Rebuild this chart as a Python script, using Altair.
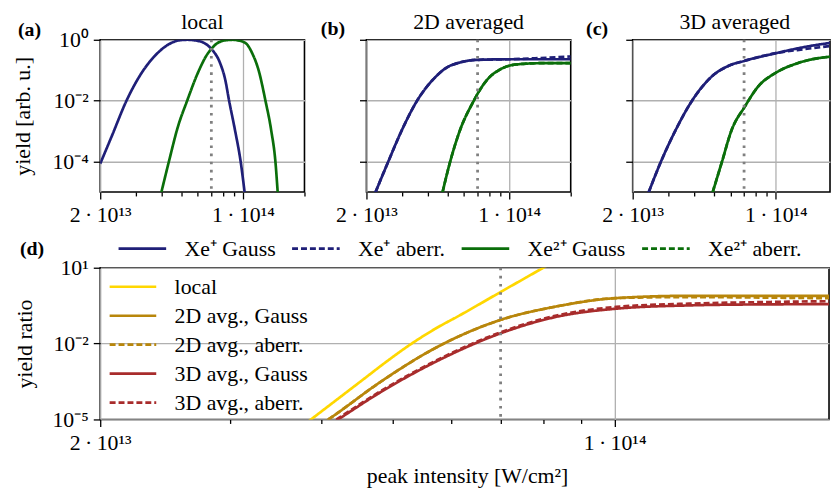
import altair as alt
import pandas as pd

FONT = "Liberation Serif, Times New Roman, serif"
FS = 22
NAVY = "#1f1f78"
GREEN = "#0a6e0a"
GOLD = "#FFD700"
DKGOLD = "#B8860B"
RED = "#A82C2C"
GRID = "#b0b0b0"

ion_series = ["Xe⁺ Gauss", "Xe⁺ aberr.", "Xe²⁺ Gauss", "Xe²⁺ aberr."]
ion_colors = [NAVY, NAVY, GREEN, GREEN]
ratio_series = ["local", "2D avg., Gauss", "2D avg., aberr.", "3D avg., Gauss", "3D avg., aberr."]
ratio_colors = [GOLD, DKGOLD, DKGOLD, RED, RED]
SOLID = [1, 0]
DASH = [6, 3]

# marker intensity (dotted vertical line)
vline_I = [7.0e13]

# ---------------- (a) local yields ----------------
a_xe1_I = [2.00e13, 2.28e13, 2.69e13, 3.18e13, 3.70e13, 4.30e13, 4.98e13, 5.38e13, 5.78e13,
           6.47e13, 7.02e13, 7.73e13, 8.19e13, 8.55e13, 9.14e13, 9.75e13, 1.019e14]
a_xe1_Y = [8.5e-5, 6.9e-4, 1.0e-2, 7.9e-2, 0.295, 0.69, 0.98, 1.0, 0.96,
           0.78, 0.49, 0.17, 0.048, 1.0e-2, 1.07e-3, 9.5e-5, 9.5e-6]
a_xe2_I = [3.98e13, 4.33e13, 4.80e13, 5.33e13, 6.00e13, 6.71e13, 7.02e13, 7.50e13, 8.40e13,
           8.93e13, 9.40e13, 1.030e14, 1.109e14, 1.197e14, 1.288e14, 1.374e14, 1.442e14, 1.479e14]
a_xe2_Y = [9.5e-6, 9.5e-5, 1.38e-3, 1.0e-2, 7.9e-2, 0.347, 0.51, 0.78, 0.98,
           1.0, 0.96, 0.78, 0.363, 0.091, 1.0e-2, 1.07e-3, 9.5e-5, 9.5e-6]

# ---------------- (b) 2D averaged ----------------
b_xe1_I = [2.21e13, 2.55e13, 2.98e13, 3.54e13, 4.22e13, 4.98e13, 5.78e13, 6.97e13, 1.012e14, 1.416e14, 2.0e14]
b_xe1_gauss = [9.5e-6, 9.5e-5, 1.07e-3, 1.0e-2, 0.048, 0.126, 0.182, 0.219, 0.229, 0.229, 0.229]
b_xe1_aberr = [9.5e-6, 9.5e-5, 1.07e-3, 1.0e-2, 0.048, 0.126, 0.182, 0.219, 0.229, 0.251, 0.282]
b_xe2_I = [4.71e13, 5.13e13, 5.74e13, 6.71e13, 7.02e13, 7.78e13, 9.04e13, 1.089e14, 1.416e14, 2.0e14]
b_xe2_gauss = [9.5e-6, 9.5e-5, 1.07e-3, 1.0e-2, 0.0174, 0.0479, 0.107, 0.155, 0.170, 0.170]
b_xe2_aberr = [9.5e-6, 9.5e-5, 1.07e-3, 1.0e-2, 0.0174, 0.0479, 0.107, 0.155, 0.170, 0.170]

# ---------------- (c) 3D averaged ----------------
c_xe1_I = [2.39e13, 2.74e13, 3.24e13, 3.90e13, 4.86e13, 5.86e13, 7.05e13, 1.002e14, 1.374e14, 2.0e14]
c_xe1_gauss = [9.5e-6, 9.5e-5, 1.07e-3, 1.0e-2, 0.0617, 0.138, 0.204, 0.363, 0.575, 0.851]
c_xe1_aberr = [9.5e-6, 9.5e-5, 1.07e-3, 1.0e-2, 0.0617, 0.138, 0.204, 0.363, 0.49, 0.661]
c_xe2_I = [4.91e13, 5.45e13, 6.08e13, 7.05e13, 8.19e13, 1.002e14, 1.277e14, 2.0e14]
c_xe2_gauss = [9.5e-6, 9.5e-5, 1.07e-3, 6.3e-3, 0.0288, 0.0832, 0.170, 0.295]
c_xe2_aberr = [9.5e-6, 9.5e-5, 1.07e-3, 6.3e-3, 0.0288, 0.0832, 0.170, 0.295]

# ---------------- (d) yield ratios ----------------
d_local_I = [3.72e13, 4.53e13, 4.91e13, 5.28e13, 5.70e13, 6.18e13, 7.02e13, 8.00e13, 8.93e13]
d_local = [4.2e-6, 3.39e-4, 2.04e-3, 9.3e-3, 0.038, 0.138, 1.15, 10.0, 63.0]
d_I = [3.90e13, 4.21e13, 4.76e13, 5.86e13, 7.02e13, 8.34e13, 1.005e14, 1.262e14, 1.589e14, 2.0e14]
d_2d_gauss = [4.0e-6, 1.86e-5, 2.51e-4, 1.0e-2, 0.089, 0.295, 0.631, 0.776, 0.776, 0.776]
d_2d_aberr = [4.0e-6, 1.86e-5, 2.51e-4, 1.0e-2, 0.089, 0.295, 0.631, 0.692, 0.661, 0.617]
d_3d_gauss = [2.45e-6, 1.0e-5, 1.0e-4, 2.75e-3, 0.0263, 0.115, 0.240, 0.324, 0.355, 0.363]
d_3d_aberr = [2.7e-6, 1.1e-5, 1.1e-4, 3.0e-3, 0.0288, 0.129, 0.282, 0.380, 0.437, 0.479]

panel_tags = ["(a)", "(b)", "(c)", "(d)"]
panel_titles = ["local", "2D averaged", "3D averaged"]
x_major = [2e13, 1e14]
x_minor_top = [3e13, 4e13, 5e13, 6e13, 7e13, 8e13, 9e13, 2e14]
x_minor_c = [3e13, 4e13, 5e13, 6e13, 7e13, 8e13, 9e13]
y_major_top = [1.0, 1e-2, 1e-4]
y_major_d = [10.0, 1e-2, 1e-5]

TOP_H = 153.5
BOT_H = 153


def frame(pairs):
    rows = []
    for name, xs, ys in pairs:
        for x, y in zip(xs, ys):
            rows.append({"series": name, "I": x, "Y": y})
    return pd.DataFrame(rows)


X_LABELS = "datum.value < 5e13 ? '2\u2009·\u200910¹³' : '1\u2009·\u200910¹⁴'"


def major_x(title=None):
    kw = dict(values=x_major, labelExpr=X_LABELS, tickSize=7, grid=True, orient="bottom",
              labelPadding=6, labelFlush=False, domain=False)
    if title:
        kw.update(title=title, titleX=370, titleY=57, titleBaseline="middle", titleAnchor="middle")
    else:
        kw.update(title=None)
    return alt.Axis(**kw)


def minor_x(vals):
    return alt.Axis(values=vals, tickSize=4, labels=False, grid=False, domain=False,
                    title=None, orient="bottom")


def tag_layer(tag, dx, dy):
    return alt.Chart(pd.DataFrame({"t": [tag]})).mark_text(
        font=FONT, fontSize=20, fontWeight="bold", align="left", baseline="alphabetic", color="black"
    ).encode(text="t:N", x=alt.value(dx), y=alt.value(dy))


def title_layer(title, cx):
    return alt.Chart(pd.DataFrame({"t": [title]})).mark_text(
        font=FONT, fontSize=FS, align="center", baseline="middle", color="black"
    ).encode(text="t:N", x=alt.value(cx), y=alt.value(-18))


def ion_panel(df, title, tag, dx, dy, width, xmax, minor, y_axis, legend):
    xs = alt.Scale(type="log", domain=[2e13, xmax], nice=False)
    ys = alt.Scale(type="log", domain=[1e-5, 1], nice=False)
    lines = alt.Chart(df).mark_line(clip=True, strokeWidth=2.7, interpolate="monotone").encode(
        x=alt.X("I:Q", scale=xs, axis=major_x()),
        y=alt.Y("Y:Q", scale=ys, axis=y_axis),
        color=alt.Color("series:N", scale=alt.Scale(domain=ion_series, range=ion_colors), legend=legend),
        strokeDash=alt.StrokeDash("series:N", scale=alt.Scale(domain=ion_series, range=[SOLID, DASH, SOLID, DASH]), legend=legend),
    )
    vline = alt.Chart(pd.DataFrame({"I": vline_I})).mark_rule(
        color="#808080", strokeWidth=2.8, strokeDash=[2.6, 5.6]
    ).encode(x=alt.X("I:Q", scale=xs, axis=minor_x(minor)))
    return alt.layer(lines, vline, tag_layer(tag, dx, dy), title_layer(title, 103)).resolve_axis(
        x="independent").properties(width=width, height=TOP_H)


top_legend = alt.Legend(orient="none", legendX=17, legendY=199.6, direction="horizontal", columns=4,
                        title=None, symbolType="stroke", symbolSize=2304, symbolStrokeWidth=2.7,
                        labelFont=FONT, labelFontSize=FS, labelColor="black", labelOffset=17,
                        columnPadding=15, padding=0, labelLimit=300, clipHeight=22)

y_axis_a = alt.Axis(values=y_major_top,
                    labelExpr="datum.value > 0.5 ? '10⁰' : datum.value > 1e-3 ? '10⁻²' : '10⁻⁴'",
                    tickSize=7, grid=True, domain=False, labelPadding=5,
                    title="yield [arb. u.]", titleX=-78, titleY=76.75, titleBaseline="middle",
                    titleAngle=270)
y_axis_bc = alt.Axis(values=y_major_top, tickSize=7, grid=True, domain=False, labels=False, title=None)

df_a = frame([(ion_series[0], a_xe1_I, a_xe1_Y), (ion_series[2], a_xe2_I, a_xe2_Y)])
df_b = frame([(ion_series[0], b_xe1_I, b_xe1_gauss), (ion_series[1], b_xe1_I, b_xe1_aberr),
              (ion_series[2], b_xe2_I, b_xe2_gauss), (ion_series[3], b_xe2_I, b_xe2_aberr)])
df_c = frame([(ion_series[0], c_xe1_I, c_xe1_gauss), (ion_series[1], c_xe1_I, c_xe1_aberr),
              (ion_series[2], c_xe2_I, c_xe2_gauss), (ion_series[3], c_xe2_I, c_xe2_aberr)])

pa = ion_panel(df_a, panel_titles[0], panel_tags[0], -83, -3.5, 206, 2e14, x_minor_top, y_axis_a, top_legend)
pb = ion_panel(df_b, panel_titles[1], panel_tags[1], -46, -4.5, 206, 2e14, x_minor_top, y_axis_bc, None)
pc = ion_panel(df_c, panel_titles[2], panel_tags[2], -47, -4.5, 199, 1.84e14, x_minor_c, y_axis_bc, None)

top = alt.hconcat(pa, pb, pc, spacing=62.5, bounds="flush").resolve_scale(
    color="independent", strokeDash="independent")

# ---------------- bottom panel ----------------
df_d = frame([(ratio_series[0], d_local_I, d_local), (ratio_series[1], d_I, d_2d_gauss),
              (ratio_series[2], d_I, d_2d_aberr), (ratio_series[3], d_I, d_3d_gauss),
              (ratio_series[4], d_I, d_3d_aberr)])
xs_d = alt.Scale(type="log", domain=[2e13, 1.956e14], nice=False)
ys_d = alt.Scale(type="log", domain=[1e-5, 10], nice=False)
d_legend = alt.Legend(orient="none", legendX=8, legendY=8.2, direction="vertical", title=None,
                      symbolType="stroke", symbolSize=2209, symbolStrokeWidth=2.7,
                      labelFont=FONT, labelFontSize=FS, labelColor="black", labelOffset=17,
                      rowPadding=7.2, padding=0, labelLimit=300, clipHeight=22)
d_lines = alt.Chart(df_d).mark_line(clip=True, strokeWidth=2.7, interpolate="monotone").encode(
    x=alt.X("I:Q", scale=xs_d, axis=major_x("peak intensity [W/cm²]")),
    y=alt.Y("Y:Q", scale=ys_d, axis=alt.Axis(
        values=y_major_d,
        labelExpr="datum.value > 1 ? '10¹' : datum.value > 1e-4 ? '10⁻²' : '10⁻⁵'",
        tickSize=7, grid=True, domain=False, labelPadding=5,
        title="yield ratio", titleX=-76, titleY=76.5, titleBaseline="middle", titleAngle=270)),
    color=alt.Color("series:N", scale=alt.Scale(domain=ratio_series, range=ratio_colors), legend=d_legend),
    strokeDash=alt.StrokeDash("series:N", scale=alt.Scale(domain=ratio_series, range=[SOLID, SOLID, DASH, SOLID, DASH]), legend=d_legend),
)
d_vline = alt.Chart(pd.DataFrame({"I": vline_I})).mark_rule(
    color="#808080", strokeWidth=2.8, strokeDash=[2.6, 5.6]
).encode(x=alt.X("I:Q", scale=xs_d, axis=minor_x(x_minor_c)))
bottom = alt.layer(d_lines, d_vline, tag_layer(panel_tags[3], -81, -12.5)).resolve_axis(
    x="independent").properties(width=735, height=BOT_H)

# with flush bounds the nested row counts as zero height, so the spacing includes the top panel height
chart = alt.vconcat(top, bottom, spacing=TOP_H + 76.4, bounds="flush").resolve_scale(
    color="independent", strokeDash="independent"
).properties(padding={"left": 3, "top": 0, "right": 0, "bottom": 0}).configure(
    font=FONT
).configure_view(stroke="black", strokeWidth=1.6).configure_axis(
    labelFont=FONT, labelFontSize=FS, labelColor="black", titleFont=FONT, titleFontSize=FS,
    titleColor="black", titleFontWeight="normal", tickColor="black", tickWidth=1.3,
    gridColor=GRID, gridWidth=1.3, gridOpacity=1
).configure_legend(labelFont=FONT, labelFontSize=FS)

chart.save("out.html", embed_options={"renderer": "svg", "actions": False})
